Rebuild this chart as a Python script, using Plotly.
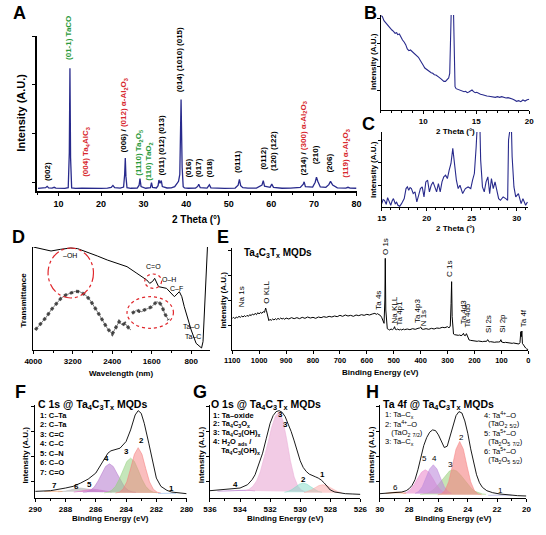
import plotly.graph_objects as go

W, H = 546, 535
FONT = "Liberation Sans"
NAVY = "#282a8c"
RED = "#d7262c"
GREEN = "#2a9a3c"


def fx(p):
    return p / W


def fy(p):
    return 1 - p / H


# ---------------- A : XRD ----------------
xrd_2theta = [5.2, 6.5, 7.0, 7.35, 7.7, 8.5, 9.0, 9.4, 10.5, 11.5, 12.3, 12.55, 12.7, 12.85, 13.1, 14, 15.5, 17, 18.5,
              20, 21.5, 22.4, 22.8, 23.2, 24.5, 25.3, 25.55, 25.7, 25.85, 26.1, 27, 28.5, 28.95, 29.15, 29.4, 30.5,
              31.6, 31.85, 32.1, 33.0, 33.4, 33.6, 33.85, 34.15, 34.4, 35.5, 36.5, 37.3, 37.9, 38.2, 38.5, 38.8,
              39.05, 39.3, 39.6, 40.5, 42.2, 42.7, 42.95, 43.3, 44.9, 45.45, 45.8, 47, 49, 51.5, 52.2, 52.5, 52.8,
              53.3, 54.5, 56.5, 57.8, 58.1, 58.4, 59.7, 60.1, 60.5, 62.5, 64.5, 66.8, 67.5, 67.7, 68.0, 69.7, 70.3,
              70.6, 70.9, 71.5, 72.8, 73.5, 73.9, 74.4, 75.5, 77.5, 78, 78.5, 80]
xrd_int = [-640, -620, -560, -420, -580, -600, -520, -600, -640, -630, -560, 3000, 11700, 2500, -580, -640, -620, -640,
           -620, -630, -600, -540, -330, -560, -600, -500, 800, 2480, 600, -560, -620, -600, -300, 380, -450, -620,
           -560, -50, -540, -590, -350, 220, -100, 170, -450, -590, -580, -450, -100, 90, 800, 8480, 1500, -450,
           -580, -620, -600, -430, -200, -560, -600, -260, -580, -620, -630, -600, -300, 300, -350, -560, -610,
           -600, -300, 170, -400, -520, -200, -520, -620, -610, -540, -200, 40, -450, -500, 0, 520, 100, -480,
           -520, -250, 90, -300, -580, -600, -520, -600, -620]

RA = f"<span style='color:{RED}'>"
GA = f"<span style='color:{GREEN}'>"
xrd_labels = ["(002)", GA + "(01-1) TaCO</span>", RA + "(004) Ta<sub>4</sub>AlC<sub>3</sub></span>",
              "(006) / " + RA + "(012) α-Al<sub>2</sub>O<sub>3</sub></span>",
              GA + "(1110) Ta<sub>2</sub>O<sub>5</sub></span>", GA + "(110) TaO<sub>2</sub></span>",
              "(011) (012) (013)", "(014) (1010) (015)", "(016)", "(017)", "(018)", "(0111)", "(0112)",
              "(120) (122)", "(214) / " + RA + "(300) α-Al<sub>2</sub>O<sub>3</sub></span>", "(210)", "(206)",
              RA + "(119) α-Al<sub>2</sub>O<sub>3</sub></span>"]
xrd_label_x = [7.4, 12.4, 16.6, 25.5, 29.0, 31.3, 34.1, 38.6, 40.6, 42.9, 45.5, 52.2, 58.0, 60.5, 67.7, 70.3, 73.7, 77.5]
xrd_label_y = [-100, 12300, 300, 2900, 500, -100, 500, 9000, 300, 300, 300, 700, 1100, 1000, 500, 1600, 800, 300]

# ---------------- B : XRD low angle ----------------
b_2theta = [6.05, 6.15, 6.3, 6.45, 6.6, 6.75, 6.9, 7.05, 7.2, 7.35, 7.5, 7.6, 7.75, 7.9, 8.05, 8.2, 8.35, 8.5, 8.65,
            8.8, 8.95, 9.1, 9.25, 9.4, 9.55, 9.7, 9.85, 10.0, 10.15, 10.3, 10.45, 10.6, 10.75, 10.9, 11.05, 11.2,
            11.35, 11.5, 11.65, 11.8, 11.95, 12.1, 12.25, 12.4, 12.5, 12.58, 12.66, 12.84, 12.92, 13.0, 13.1, 13.25,
            13.4, 13.55, 13.7, 13.85, 14.0, 14.15, 14.3, 14.45, 14.6, 14.75, 14.9, 15.05, 15.2, 15.4, 15.6, 15.8,
            16.0, 16.2, 16.4, 16.6, 16.8, 17.0, 17.2, 17.4, 17.6, 17.8, 18.0, 18.2, 18.4, 18.6, 18.8, 19.0, 19.2,
            19.4, 19.6, 19.8, 20.0]
b_int = [283, 280, 268, 262, 256, 250, 246, 240, 236, 230, 232, 226, 228, 218, 210, 204, 196, 183, 178, 180, 176, 172,
         168, 164, 158, 150, 140, 134, 126, 122, 118, 116, 112, 110, 106, 105, 100, 98, 94, 90, 86, 86, 90, 96, 110,
         200, 320, 320, 150, 70, 64, 62, 60, 58, 58, 55, 56, 52, 54, 56, 60, 55, 52, 53, 50, 47, 46, 43, 42, 41, 40,
         41, 38, 40, 38, 40, 37, 36, 37, 36, 33, 30, 26, 28, 25, 30, 27, 31, 32]

# ---------------- C : XRD mid angle ----------------
c_2theta = [15.0, 15.15, 15.3, 15.5, 15.65, 15.8, 16.0, 16.15, 16.3, 16.5, 16.65, 16.8, 17.0, 17.2, 17.35, 17.5,
            17.7, 17.85, 18.0, 18.15, 18.3, 18.5, 18.7, 18.9, 19.1, 19.3, 19.5, 19.7, 19.9, 20.1, 20.3, 20.5, 20.7,
            20.9, 21.1, 21.3, 21.5, 21.7, 21.9, 22.1, 22.3, 22.5, 22.7, 22.9, 23.1, 23.3, 23.5, 23.7, 24.0, 24.3,
            24.6, 24.9, 25.1, 25.3, 25.5, 25.65, 25.9, 26.0, 26.2, 26.4, 26.6, 26.8, 27.0, 27.2, 27.4, 27.6, 27.8,
            28.0, 28.2, 28.5, 28.8, 29.0, 29.1, 29.2, 29.4, 29.5, 29.7, 29.9, 30.2, 30.5, 30.7, 31.0, 31.2]
c_int = [10, 22, 20, 8, 28, 15, 5, 18, 25, 10, 14, 5, 2, 10, 18, 25, 55, 60, 50, 58, 55, 40, 45, 15, 35, 55, 60, 30,
         75, 80, 45, 65, 75, 60, 45, 70, 45, 75, 90, 95, 85, 110, 130, 175, 125, 80, 55, 65, 40, 55, 60, 55, 80,
         100, 180, 260, 260, 140, 60, 45, 75, 90, 40, 85, 55, 75, 50, 25, 20, 30, 25, 20, 200, 260, 260, 150, 60,
         30, 40, 10, 25, 5, 15]

# ---------------- D : FTIR ----------------
d_up_wn = [4000, 3800, 3640, 3450, 3240, 3100, 2900, 2700, 2500, 2300, 2100, 1900, 1700, 1640, 1580, 1540, 1500,
           1460, 1300, 1140, 1040, 990, 940, 870, 800, 700, 620, 590, 560, 520, 470]
d_up_val = [309, 302, 297, 302, 306, 304, 294, 282, 270, 260, 250, 230, 210, 200, 206, 215, 200, 190, 185, 160, 175,
            160, 130, 95, 60, 20, 8, 6, 25, 150, 309]
d_low_wn = [3960, 3840, 3740, 3640, 3540, 3440, 3340, 3240, 3150, 3060, 2940, 2850, 2760, 2680, 2600, 2500, 2400,
            2340, 2260, 2200, 2140, 2060, 2020, None, 2000, 1950, 1900, 1850, 1800, 1750, 1700, 1650, 1600, 1550,
            1500, 1450, 1400, 1340, 1300, 1260]
d_low_val = [60, 80, 98, 120, 138, 155, 165, 172, 176, 175, 165, 150, 130, 110, 90, 65, 48, 65, 85, 75, 80, 65, 60,
             None, 110, 115, 120, 116, 115, 120, 122, 126, 130, 138, 145, 142, 135, 110, 100, 90]
d_labels = ["–OH", "C=O", "O–H", "C–F", "Ta–O", "Ta–C"]
d_label_x = [3250, 1560, 1240, 1090, 790, 760]
d_label_y = [284, 250, 213, 186, 72, 42]

# ---------------- E : XPS survey ----------------
e_be = [1100, 1095, 1090, 1085, 1080, 1075, 1070, 1065, 1060, 1055, 1050, 1045, 1040, 1035, 1030, 1025, 1020, 1015,
        1010, 1005, 1000, 995, 990, 985, 980, 976, 973, 970, 967, 964, 960, 955, 950, 945, 940, 935, 930, 925, 920,
        915, 910, 905, 900, 890, 880, 870, 860, 850, 840, 830, 820, 810, 800, 790, 780, 770, 760, 750, 740, 730,
        720, 710, 700, 690, 680, 670, 660, 650, 640, 630, 620, 610, 600, 590, 580, 570, 565, 560, 555, 550, 545,
        540, 536, 533, 531.5, 529.5, 527, 524, 520, 515, 510, 505, 500, 497, 494, 490, 485, 480, 475, 470, 465,
        460, 450, 440, 430, 420, 410, 404, 400, 396, 390, 380, 370, 360, 350, 340, 330, 320, 310, 300, 295, 290,
        287, 285, 283, 281, 278, 274, 270, 265, 260, 255, 250, 245, 241, 238, 234, 230, 227, 223, 220, 215, 210,
        205, 200, 195, 190, 185, 180, 175, 170, 165, 160, 155, 151, 148, 145, 140, 135, 130, 125, 120, 115, 110,
        105, 102, 99, 95, 90, 85, 80, 75, 70, 65, 60, 55, 50, 45, 40, 35, 31, 28, 26, 24, 22, 18, 14, 10, 6, 3, 0]
e_int = [95, 98, 94, 99, 97, 101, 98, 102, 99, 103, 100, 104, 101, 106, 103, 108, 105, 110, 106, 112, 108, 113, 110,
         115, 113, 126, 118, 108, 96, 88, 92, 89, 93, 90, 94, 91, 95, 92, 96, 93, 95, 92, 96, 93, 97, 94, 97, 94, 98,
         95, 99, 96, 98, 95, 99, 97, 100, 98, 101, 99, 102, 100, 104, 101, 105, 102, 104, 101, 105, 103, 106, 104,
         107, 105, 108, 110, 107, 109, 106, 104, 98, 88, 80, 150, 275, 120, 70, 64, 62, 60, 63, 61, 64, 70, 62, 61,
         63, 60, 62, 60, 63, 61, 63, 61, 64, 62, 65, 66, 69, 63, 62, 64, 62, 65, 63, 66, 65, 68, 67, 70, 66, 72, 140,
         205, 100, 55, 48, 46, 45, 46, 44, 45, 43, 45, 50, 44, 43, 49, 42, 34, 30, 29, 28, 27, 28, 27, 26, 27, 26,
         27, 25, 26, 25, 26, 31, 25, 24, 25, 24, 25, 23, 24, 23, 24, 25, 31, 24, 23, 22, 23, 22, 21, 22, 21, 20, 21,
         20, 19, 19, 18, 22, 55, 40, 57, 20, 14, 10, 6, 3, 2, 1]
e_labels = ["Na 1s", "O KLL", "Ta 4s", "O 1s", "Na KLL", "Ta 4p1", "Ta 4p3", "N 1s", "C 1s", "Ta 4d3", "Ta 4d5",
            "Si 2s", "Si 2p", "Ta 4f"]
e_label_x = [1066, 974, 555, 533, 499, 478, 409, 390, 292, 242, 225, 150, 97, 20]
e_label_y = [122, 132, 116, 280, 72, 68, 74, 66, 212, 70, 62, 45, 45, 62]

# ---------------- F : C 1s ----------------
f_env_be = [290, 289, 288, 287.5, 287, 286.5, 286, 285.5, 285.2, 285, 284.7, 284.4, 284.0, 283.7, 283.4, 283.2,
            283.0, 282.8, 282.5, 282.2, 282.0, 281.7, 281.3, 281, 280.5, 280]
f_env = [20, 22, 30, 35, 45, 57, 75, 110, 135, 142, 145, 150, 170, 205, 250, 263, 255, 225, 165, 95, 60, 35, 23, 18,
         15, 13]
f_c1_be = [281.9, 281.6, 281.3, 281.0, 280.7]
f_c1 = [13.5, 14.5, 15.5, 14.5, 13.5]
f_c2_be = [284.7, 284.45, 284.2, 283.95, 283.7, 283.45, 283.2, 282.95, 282.7, 282.45, 282.2, 281.95, 281.7]
f_c2 = [15, 17.5, 26.5, 48.5, 88.5, 131.5, 151.5, 131.5, 88.5, 48.5, 26.5, 17.5, 15]
f_c3_be = [285.45, 285.2, 284.95, 284.7, 284.45, 284.2, 283.95, 283.7, 283.45, 283.2, 282.95, 282.7, 282.45, 282.2,
           281.95]
f_c3 = [15.6, 17.5, 23, 35, 56.5, 84.5, 110, 120, 110, 84.5, 56.5, 35, 23, 17.5, 15.6]
f_c4_be = [286.85, 286.6, 286.35, 286.1, 285.85, 285.6, 285.35, 285.1, 284.85, 284.6, 284.35, 284.1, 283.85, 283.6,
           283.35]
f_c4 = [17, 18.5, 23, 33, 51, 74, 95, 103, 95, 74, 51, 33, 23, 18.5, 17]
f_c5_be = [287.45, 287.2, 286.95, 286.7, 286.45, 286.2, 285.95, 285.7, 285.45, 285.2, 284.95]
f_c5 = [17.7, 18.8, 20.7, 23.3, 25.4, 26.5, 25.4, 23.3, 20.7, 18.8, 17.7]
f_c6_be = [288.5, 288.25, 288.0, 287.75, 287.5, 287.25, 287.0, 286.75, 286.5, 286.25, 286.0, 285.75, 285.5]
f_c6 = [18.5, 19.4, 21, 23.5, 26.5, 29, 30, 29, 26.5, 23.5, 21, 19.4, 18.5]
f_c7_be = [289.4, 289.1, 288.8, 288.5, 288.2]
f_c7 = [19.5, 20.5, 21.5, 20.5, 19.5]
f_peak_names = ["7", "6", "5", "4", "3", "2", "1"]
f_peak_x = [288.7, 287.3, 286.4, 285.3, 284.0, 283.0, 281.0]
f_peak_y = [38, 36, 42, 118, 140, 172, 30]
f_legend = ["1: C–Ta", "2: C–Ta", "3: C=C", "4: C–C", "5: C–N", "6: C–O", "7: C=O"]

# ---------------- G : O 1s ----------------
g_env_be = [536, 535.5, 535, 534.5, 534, 533.5, 533.2, 533, 532.75, 532.5, 532.25, 532, 531.8, 531.6, 531.4, 531.2,
            531, 530.8, 530.6, 530.4, 530.2, 530, 529.8, 529.6, 529.4, 529.2, 529, 528.8, 528.6, 528.4, 528.2, 528,
            527.7, 527.4, 527, 526.5, 526]
g_env = [22, 23.5, 25, 27, 30, 40, 55, 70, 100, 135, 180, 225, 248, 260, 263, 258, 245, 225, 200, 172, 140, 112, 92,
         80, 72, 67, 64, 60, 54, 45, 33, 24, 18, 15, 13, 12, 11]
g_c1_be = [529.75, 529.5, 529.25, 529.0, 528.75, 528.5, 528.25, 528.0, 527.75, 527.5, 527.25]
g_c1 = [16, 19, 24.3, 31.2, 37.5, 40, 37.5, 31.2, 24.3, 19, 16]
g_c2_be = [531.05, 530.8, 530.55, 530.3, 530.05, 529.8, 529.55, 529.3, 529.05, 528.8, 528.55]
g_c2 = [17.3, 19.9, 25.4, 33.6, 41.6, 45, 41.6, 33.6, 25.4, 19.9, 17.3]
g_c3_be = [533.65, 533.4, 533.15, 532.9, 532.65, 532.4, 532.15, 531.9, 531.65, 531.4, 531.15, 530.9, 530.65, 530.4,
           530.15, 529.9, 529.65]
g_c3 = [21.7, 26, 35, 51.5, 79, 118, 165, 212, 247, 260, 234, 177, 112, 63, 35, 23, 18.5]
g_c4_be = [535.5, 535, 534.5, 534, 533.5, 533]
g_c4 = [20.5, 21.5, 23, 24, 23.5, 21.5]
g_peak_names = ["4", "3", "3", "2", "1"]
g_peak_x = [534.3, 531.3, 531.0, 529.8, 528.5]
g_peak_y = [40, 252, 222, 55, 70]
g_legend = ["1: Ta–oxide", "2: Ta<sub>4</sub>C<sub>3</sub>O<sub>x</sub>", "3: Ta<sub>4</sub>C<sub>3</sub>(OH)<sub>x</sub>",
            "4: H<sub>2</sub>O <sub>ads</sub> /", "    Ta<sub>4</sub>C<sub>3</sub>(OH)<sub>x</sub>"]

# ---------------- H : Ta 4f ----------------
h_env_be = [30, 29.5, 29, 28.5, 28.2, 28, 27.8, 27.6, 27.4, 27.2, 27, 26.8, 26.6, 26.4, 26.2, 26, 25.8, 25.6, 25.4,
            25.2, 25, 24.8, 24.6, 24.4, 24.2, 24, 23.8, 23.6, 23.4, 23.2, 23, 22.7, 22.3, 21.8, 21.2, 20.6, 20]
h_env = [13, 14, 15, 18, 22, 28, 38, 55, 85, 122, 158, 182, 198, 205, 203, 190, 168, 152, 156, 185, 220, 248, 260,
         256, 232, 195, 148, 105, 70, 46, 32, 22, 16, 12, 9, 7, 6]
h_c1_be = [22.6, 22.2, 21.8, 21.4, 21.0]
h_c1 = [8, 9, 9.5, 9, 8]
h_c2_be = [26.05, 25.8, 25.55, 25.3, 25.05, 24.8, 24.55, 24.3, 24.05, 23.8, 23.55, 23.3, 23.05]
h_c2 = [9.6, 12.4, 22.7, 49, 96, 147, 170, 147, 96, 49, 22.7, 12.4, 9.6]
h_c3_be = [27.25, 27.0, 26.75, 26.5, 26.25, 26.0, 25.75, 25.5, 25.25, 25.0, 24.75, 24.5, 24.25, 24.0, 23.75, 23.5,
           23.25, 23.0, 22.75]
h_c3 = [10.8, 12.2, 15, 20, 28.7, 41, 55.5, 70, 81, 85, 81, 70, 55.5, 41, 28.7, 20, 15, 12.2, 10.8]
h_c4_be = [27.6, 27.35, 27.1, 26.85, 26.6, 26.35, 26.1, 25.85, 25.6, 25.35, 25.1]
h_c4 = [13.8, 19.5, 34, 59.5, 87.4, 100, 87.4, 59.5, 34, 19.5, 13.8]
h_c5_be = [28.4, 28.15, 27.9, 27.65, 27.4, 27.15, 26.9, 26.65, 26.4, 26.15, 25.9, 25.65, 25.4]
h_c5 = [13.8, 17.5, 26, 40.8, 60.3, 77.8, 85, 77.8, 60.3, 40.8, 26, 17.5, 13.8]
h_c6_be = [29.6, 29.2, 28.9, 28.6, 28.2]
h_c6 = [14, 16.5, 18, 16.5, 14]
h_peak_names = ["6", "5", "4", "3", "2", "1"]
h_peak_x = [28.9, 26.95, 26.3, 25.2, 24.45, 21.75]
h_peak_y = [32, 118, 118, 100, 182, 22]
h_legend_left = ["1: Ta–C<sub>x</sub>", "2: Ta<sup>4+</sup>–O", "   (TaO<sub>2</sub> <sub>7/2</sub>)",
                 "3: Ta–C<sub>x</sub>"]
h_legend_right = ["4: Ta<sup>4+</sup>–O", "  (TaO<sub>2</sub> <sub>5/2</sub>)", "5: Ta<sup>5+</sup>–O",
                  "  (Ta<sub>2</sub>O<sub>5</sub> <sub>7/2</sub>)", "6: Ta<sup>5+</sup>–O",
                  "  (Ta<sub>2</sub>O<sub>5</sub> <sub>5/2</sub>)"]

# ================= figure =================
fig = go.Figure()


def line(x, y, ax, color, width=1.0, dash=None):
    fig.add_trace(go.Scatter(x=x, y=y, xaxis="x" + ax, yaxis="y" + ax, mode="lines",
                             line=dict(color=color, width=width, dash=dash), hoverinfo="skip",
                             connectgaps=False, showlegend=False))


def comp(x, y, ax, rgb, alpha=0.55):
    fig.add_trace(go.Scatter(x=x, y=y, xaxis="x" + ax, yaxis="y" + ax, mode="lines", fill="toself",
                             fillcolor=f"rgba({rgb},{alpha})", line=dict(color=f"rgba({rgb},0.9)", width=0.6),
                             hoverinfo="skip", showlegend=False))


# A, B, C
line(xrd_2theta, xrd_int, "", NAVY, 1.3)
line(b_2theta, b_int, "2", NAVY, 1.1)
line(c_2theta, c_int, "3", NAVY, 1.1)
# D
line(d_low_wn, d_low_val, "4", "#555555", 3.2, "dot")
line(d_low_wn, d_low_val, "4", "#222222", 0.6)
line(d_up_wn, d_up_val, "4", "black", 1.0)
# E
line(e_be, e_int, "5", "black", 1.0)
# F
comp(f_c6_be, f_c6, "6", "185,185,185", 0.7)
comp(f_c7_be, f_c7, "6", "240,150,90", 0.7)
comp(f_c5_be, f_c5, "6", "225,110,200", 0.55)
comp(f_c4_be, f_c4, "6", "180,120,205", 0.55)
comp(f_c3_be, f_c3, "6", "150,210,130", 0.55)
comp(f_c2_be, f_c2, "6", "245,125,125", 0.5)
comp(f_c1_be, f_c1, "6", "140,180,230", 0.6)
line(f_env_be, f_env, "6", "black", 0.9)
# G
comp(g_c4_be, g_c4, "7", "170,100,200", 0.6)
comp(g_c3_be, g_c3, "7", "235,175,215", 0.65)
comp(g_c2_be, g_c2, "7", "130,220,200", 0.5)
comp(g_c1_be, g_c1, "7", "250,165,165", 0.5)
line(g_env_be, g_env, "7", "black", 0.9)
# H
comp(h_c3_be, h_c3, "8", "160,210,130", 0.6)
comp(h_c5_be, h_c5, "8", "235,140,205", 0.6)
comp(h_c4_be, h_c4, "8", "190,140,220", 0.6)
comp(h_c2_be, h_c2, "8", "245,130,130", 0.6)
comp(h_c6_be, h_c6, "8", "240,140,80", 0.75)
comp(h_c1_be, h_c1, "8", "150,150,220", 0.5)
line(h_env_be, h_env, "8", "black", 0.9)

TICKF = dict(family=FONT, size=8, color="black", weight="bold")


def xax(x0, x1, rng, tickvals=None, dtick=None, minor=None, size=8, lw=1.2):
    d = dict(domain=[fx(x0), fx(x1)], range=rng, showline=True, linecolor="black", linewidth=lw,
             ticks="outside", ticklen=3, tickwidth=1, tickcolor="black", showgrid=False, zeroline=False,
             tickfont=dict(TICKF, size=size), fixedrange=True)
    if tickvals is not None:
        d["tickvals"] = tickvals
    if dtick is not None:
        d["dtick"] = dtick
        d["tick0"] = 0
    if minor is not None:
        d["minor"] = dict(dtick=minor, ticks="outside", ticklen=2, tickcolor="black", showgrid=False)
    return d


def yax(y_top, y_bot, rng, tickvals=None, lw=1.2):
    d = dict(domain=[fy(y_bot), fy(y_top)], range=rng, showline=True, linecolor="black", linewidth=lw,
             showticklabels=False, showgrid=False, zeroline=False, fixedrange=True)
    if tickvals:
        d.update(ticks="outside", ticklen=3, tickwidth=1, tickcolor="black", tickvals=tickvals)
    else:
        d.update(ticks="")
    return d


layout_axes = {}
layout_axes["xaxis"] = dict(xax(29, 358, [5, 80], dtick=10, minor=5, size=9, lw=1.8), anchor="y")
layout_axes["yaxis"] = dict(yax(36, 191, [-900, 15000], [0, 5000, 10000, 15000], lw=1.8), anchor="x")
layout_axes["xaxis2"] = dict(xax(383, 536, [6, 20], dtick=5, minor=1), anchor="y2")
layout_axes["yaxis2"] = dict(yax(15, 110, [0, 285], [58, 130, 200, 275]), anchor="x2")
layout_axes["xaxis3"] = dict(xax(384, 535, [15, 31.3], dtick=5, minor=1), anchor="y3")
layout_axes["yaxis3"] = dict(yax(132, 207, [0, 224], [65, 133, 200]), anchor="x3")
layout_axes["xaxis4"] = dict(xax(25, 207, [4000, 420], tickvals=[4000, 3200, 2400, 1600, 800], minor=400),
                             anchor="y4")
layout_axes["xaxis4"]["minor"]["tick0"] = 0
layout_axes["yaxis4"] = dict(yax(247, 350, [0, 309]), anchor="x4")
layout_axes["xaxis5"] = dict(xax(230, 535, [1100, 0], dtick=100, size=7.5), anchor="y5")
layout_axes["yaxis5"] = dict(yax(248, 350, [0, 306], [75, 150, 225, 300]), anchor="x5")
layout_axes["xaxis6"] = dict(xax(27, 183, [290, 280], dtick=2, minor=1), anchor="y6")
layout_axes["yaxis6"] = dict(yax(405, 498, [0, 280], [50, 125, 200, 275]), anchor="x6")
layout_axes["xaxis7"] = dict(xax(207, 362, [536, 526], dtick=2, minor=1), anchor="y7")
layout_axes["yaxis7"] = dict(yax(405, 498, [0, 280], [50, 125, 200, 275]), anchor="x7")
layout_axes["xaxis8"] = dict(xax(382, 533, [30, 20], dtick=2, minor=1), anchor="y8")
layout_axes["yaxis8"] = dict(yax(405, 498, [0, 280], [50, 125, 200, 275]), anchor="x8")

ann = []


def text(t, x, y, size=8, bold=True, xanchor="center", yanchor="middle", angle=0, color="black"):
    ann.append(dict(text=t, x=fx(x), y=fy(y), xref="paper", yref="paper", showarrow=False, xanchor=xanchor,
                    yanchor=yanchor, textangle=angle,
                    font=dict(family=FONT, size=size, color=color, weight="bold" if bold else "normal")))


def dtext(t, x, y, ax, size=8, bold=True, angle=0, xanchor="center", yanchor="middle", color="black"):
    ann.append(dict(text=t, x=x, y=y, xref="x" + ax, yref="y" + ax, showarrow=False, textangle=angle,
                    xanchor=xanchor, yanchor=yanchor,
                    font=dict(family=FONT, size=size, color=color, weight="bold" if bold else "normal")))


# panel letters
for L, x, y in [("A", 11, 13), ("B", 372, 13), ("C", 370, 124), ("D", 10, 237), ("E", 220, 237),
                ("F", 12, 392), ("G", 197, 392), ("H", 374, 392)]:
    text(L, x, y, size=18)

# axis titles
text("Intensity (A.U.)", 12, 113, size=11, angle=-90)
text("2 Theta (°)", 193, 219, size=10)
text("Intensity (A.U.)", 375, 62, size=8, angle=-90)
text("2 Theta (°)", 460, 131, size=8)
text("Intensity (A.U.)", 375, 170, size=8, angle=-90)
text("2 Theta (°)", 460, 228, size=8)
text("Transmittance", 14, 300, size=8, angle=-90)
text("Wavelength (nm)", 115, 373, size=8)
text("Intensity (A.U.)", 220, 300, size=8, angle=-90)
text("Binding Energy (eV)", 383, 372, size=8)
for cx, tx in [(16, 105), (198, 285), (373, 458)]:
    text("Intensity (A.U.)", cx, 455, size=8, angle=-90)
    text("Binding Energy (eV)", tx, 518, size=8)

# A peak labels
for t, x, y in zip(xrd_labels, xrd_label_x, xrd_label_y):
    dtext(t, x, y, "", size=8, angle=-90, yanchor="bottom")

# D labels
for t, x, y in zip(d_labels, d_label_x, d_label_y):
    dtext(t, x, y, "4", size=7, bold=False)

# E labels
text("Ta<sub>4</sub>C<sub>3</sub>T<sub>x</sub> MQDs", 240, 253, size=10, xanchor="left")
for t, x, y in zip(e_labels, e_label_x, e_label_y):
    dtext(t, x, y, "5", size=8, bold=False, angle=-90, yanchor="bottom")

# F
text("C 1s @ Ta<sub>4</sub>C<sub>3</sub>T<sub>x</sub> MQDs", 28, 405, size=10.5, xanchor="left")
for i, t in enumerate(f_legend):
    text(t, 30, 415 + i * 9.5, size=7.5, xanchor="left")
for t, x, y in zip(f_peak_names, f_peak_x, f_peak_y):
    dtext(t, x, y, "6", size=8)

# G
text("O 1s @ Ta<sub>4</sub>C<sub>3</sub>T<sub>x</sub> MQDs", 206, 405, size=10.5, xanchor="left")
for i, t in enumerate(g_legend):
    text(t, 208, 415 + i * 9, size=7.5, xanchor="left")
for t, x, y in zip(g_peak_names, g_peak_x, g_peak_y):
    dtext(t, x, y, "7", size=8)

# H
text("Ta 4f @ Ta<sub>4</sub>C<sub>3</sub>T<sub>x</sub> MQDs", 383, 405, size=10.5, xanchor="left")
for i, t in enumerate(h_legend_left):
    text(t, 385, 415 + i * 9, size=7.5, xanchor="left", bold=False)
for i, t in enumerate(h_legend_right):
    text(t, 487, 415 + i * 9, size=7.5, xanchor="left", bold=False)
for t, x, y in zip(h_peak_names, h_peak_x, h_peak_y):
    dtext(t, x, y, "8", size=8, bold=False)

shapes = [
    dict(type="circle", xref="x4", yref="y4", x0=3700, x1=2780, y0=156, y1=306,
         line=dict(color="#e0262b", width=1.2, dash="dashdot")),
    dict(type="circle", xref="x4", yref="y4", x0=1740, x1=1400, y0=185, y1=228,
         line=dict(color="#e0262b", width=1.2, dash="dot")),
    dict(type="circle", xref="x4", yref="y4", x0=2100, x1=1160, y0=65, y1=160,
         line=dict(color="#e0262b", width=1.2, dash="dot")),
]

fig.update_layout(width=W, height=H, margin=dict(l=0, r=0, t=0, b=0), paper_bgcolor="white",
                  plot_bgcolor="white", showlegend=False, annotations=ann, shapes=shapes,
                  font=dict(family=FONT, color="black"), **layout_axes)

fig.write_html("out.html", config={"displayModeBar": False},
               post_script="document.body.style.margin='0';document.body.style.overflow='hidden';")
